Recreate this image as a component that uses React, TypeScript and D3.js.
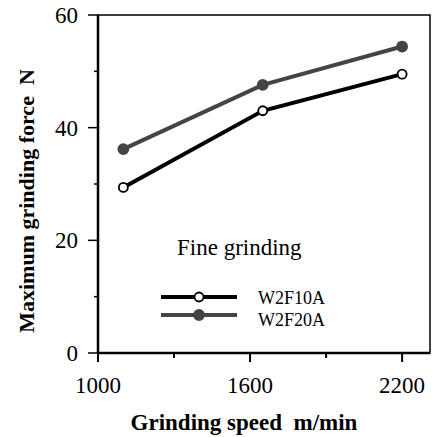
import React, { useEffect, useRef } from 'react';
import * as d3 from 'd3';

const speeds = [1100, 1650, 2200];
const w2f10a = [29.4, 43.0, 49.5];
const w2f20a = [36.2, 47.6, 54.4];
const xTicks = [1000, 1600, 2200];
const xMinor = [1300, 1900];
const yTicks = [0, 20, 40, 60];
const yMinor = [10, 30, 50];

const W = 433;
const H = 437;
const FONT = "'Times New Roman', Times, 'Liberation Serif', 'DejaVu Serif', serif";

const App = () => {
  const ref = useRef<SVGSVGElement>(null);

  useEffect(() => {
    const svg = d3.select(ref.current);
    svg.selectAll('*').remove();

    const left = 98, right = 430, top = 15, bottom = 353;
    const x = d3.scaleLinear().domain([1000, 2310]).range([left, right]);
    const y = d3.scaleLinear().domain([0, 60]).range([bottom, top]);

    // frame, top and right sides thinner
    svg.append('rect')
      .attr('x', left).attr('y', top)
      .attr('width', right - left).attr('height', bottom - top)
      .attr('fill', 'none').attr('stroke', '#000').attr('stroke-width', 1.5);

    // x axis
    const gx = svg.append('g').attr('transform', `translate(0,${bottom})`);
    gx.append('line').attr('x1', left).attr('x2', right).attr('stroke', '#000').attr('stroke-width', 2.5);
    xTicks.forEach((t) => {
      gx.append('line').attr('x1', x(t)).attr('x2', x(t)).attr('y1', 0).attr('y2', 9)
        .attr('stroke', '#000').attr('stroke-width', 2);
      gx.append('text').attr('x', x(t)).attr('y', 40).attr('text-anchor', 'middle')
        .style('font-family', FONT).style('font-size', '23px').text(t);
    });
    xMinor.forEach((t) => {
      gx.append('line').attr('x1', x(t)).attr('x2', x(t)).attr('y1', 0).attr('y2', 5)
        .attr('stroke', '#000').attr('stroke-width', 2);
    });

    // y axis
    const gy = svg.append('g').attr('transform', `translate(${left},0)`);
    gy.append('line').attr('y1', top).attr('y2', bottom).attr('stroke', '#000').attr('stroke-width', 2.5);
    yTicks.forEach((t) => {
      gy.append('line').attr('x1', -10).attr('x2', 0).attr('y1', y(t)).attr('y2', y(t))
        .attr('stroke', '#000').attr('stroke-width', 1.5);
      gy.append('text').attr('x', -20).attr('y', y(t) + 8).attr('text-anchor', 'end')
        .style('font-family', FONT).style('font-size', '23px').text(t);
    });
    yMinor.forEach((t) => {
      gy.append('line').attr('x1', -4).attr('x2', 0).attr('y1', y(t)).attr('y2', y(t))
        .attr('stroke', '#000').attr('stroke-width', 1.5);
    });

    // axis titles
    svg.append('text').attr('x', 244).attr('y', 430).attr('text-anchor', 'middle')
      .style('font-family', FONT).style('font-size', '23px').style('font-weight', 'bold')
      .style('white-space', 'pre')
      .text('Grinding speed  m/min');
    svg.append('text').attr('transform', 'translate(34,201) rotate(-90)').attr('text-anchor', 'middle')
      .style('font-family', FONT).style('font-size', '22px').style('font-weight', 'bold')
      .style('white-space', 'pre')
      .text('Maximum grinding force  N');

    const series = [
      { name: 'W2F10A', values: w2f10a, color: '#000', fill: '#fff', r: 4.5 },
      { name: 'W2F20A', values: w2f20a, color: '#444', fill: '#444', r: 5 },
    ];
    const line = d3.line<number>().x((_, i) => x(speeds[i])).y((d) => y(d));

    series.slice().reverse().forEach((s) => {
      svg.append('path').attr('d', line(s.values)).attr('fill', 'none')
        .attr('stroke', s.color).attr('stroke-width', 4);
      s.values.forEach((v, i) => {
        svg.append('circle').attr('cx', x(speeds[i])).attr('cy', y(v)).attr('r', s.r)
          .attr('fill', s.fill).attr('stroke', s.color).attr('stroke-width', 1.8);
      });
    });

    // legend
    svg.append('text').attr('x', 177).attr('y', 255)
      .style('font-family', FONT).style('font-size', '23px').text('Fine grinding');
    series.forEach((s, i) => {
      const ly = 297 + i * 18;
      svg.append('line').attr('x1', 161).attr('x2', 237).attr('y1', ly).attr('y2', ly)
        .attr('stroke', s.color).attr('stroke-width', 4);
      svg.append('circle').attr('cx', 199).attr('cy', ly).attr('r', s.r)
        .attr('fill', s.fill).attr('stroke', s.color).attr('stroke-width', 1.8);
      svg.append('text').attr('x', 258).attr('y', 304 + i * 22)
        .style('font-family', FONT).style('font-size', '18px').text(s.name);
    });
  }, []);

  return <svg ref={ref} width={W} height={H} style={{ position: 'absolute', left: 0, top: 0, background: '#fff' }} />;
};

export default App;
